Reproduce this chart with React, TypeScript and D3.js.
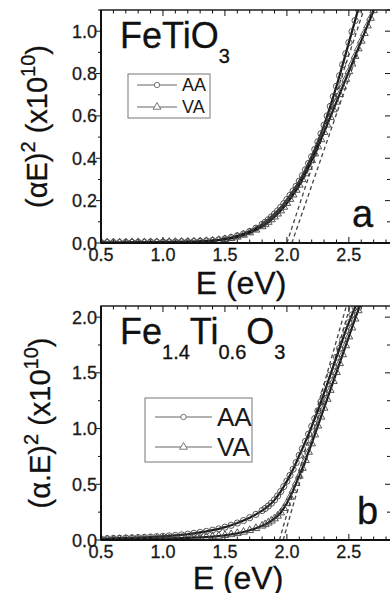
import React, { useEffect, useRef } from "react";
import * as d3 from "d3";

// photon energy grid (eV) shared by all curves
const energy = [
  0.5, 0.55, 0.6, 0.65, 0.7, 0.75, 0.8, 0.85, 0.9, 0.95, 1.0, 1.05, 1.1, 1.15,
  1.2, 1.25, 1.3, 1.35, 1.4, 1.45, 1.5, 1.55, 1.6, 1.65, 1.7, 1.75, 1.8, 1.825,
  1.85, 1.875, 1.9, 1.925, 1.95, 1.975, 2.0, 2.025, 2.05, 2.075, 2.1, 2.125,
  2.15, 2.175, 2.2, 2.225, 2.25, 2.275, 2.3, 2.325, 2.35, 2.375, 2.4, 2.425,
  2.45, 2.475, 2.5, 2.525, 2.55, 2.575, 2.6, 2.625, 2.65, 2.675, 2.7, 2.725,
];

// panel a: FeTiO3
const topAA = [
  0.002, 0.002, 0.002, 0.002, 0.003, 0.003, 0.003, 0.003, 0.004, 0.004, 0.004,
  0.005, 0.005, 0.006, 0.006, 0.007, 0.008, 0.01, 0.012, 0.015, 0.02, 0.026,
  0.034, 0.043, 0.055, 0.07, 0.088, 0.098, 0.11, 0.123, 0.137, 0.152, 0.168,
  0.186, 0.205, 0.225, 0.246, 0.268, 0.292, 0.318, 0.346, 0.376, 0.408, 0.442,
  0.478, 0.516, 0.556, 0.6, 0.645, 0.692, 0.74, 0.79, 0.842, 0.894, 0.946,
  0.998, 1.05, 1.104,
];
const topVA = [
  0.002, 0.002, 0.002, 0.002, 0.002, 0.003, 0.003, 0.003, 0.003, 0.003, 0.004,
  0.004, 0.004, 0.005, 0.005, 0.006, 0.007, 0.008, 0.01, 0.013, 0.017, 0.022,
  0.029, 0.038, 0.049, 0.062, 0.078, 0.088, 0.099, 0.111, 0.124, 0.138, 0.153,
  0.17, 0.188, 0.207, 0.228, 0.25, 0.274, 0.3, 0.328, 0.358, 0.39, 0.422,
  0.455, 0.489, 0.523, 0.558, 0.594, 0.63, 0.666, 0.702, 0.738, 0.774, 0.81,
  0.846, 0.882, 0.918, 0.954, 0.99, 1.026, 1.062, 1.098, 1.134,
];

// panel b: Fe1.4Ti0.6O3
const bottomAA = [
  0.01, 0.012, 0.014, 0.016, 0.018, 0.02, 0.022, 0.024, 0.027, 0.03, 0.033,
  0.037, 0.041, 0.046, 0.052, 0.06, 0.068, 0.077, 0.088, 0.1, 0.115, 0.132,
  0.152, 0.175, 0.2, 0.23, 0.264, 0.283, 0.305, 0.33, 0.36, 0.395, 0.435, 0.48,
  0.528, 0.58, 0.635, 0.695, 0.76, 0.82, 0.885, 0.95, 1.02, 1.09, 1.16, 1.24,
  1.32, 1.4, 1.48, 1.56, 1.64, 1.72, 1.8, 1.88, 1.95, 2.02, 2.09, 2.15,
];
const bottomVA = [
  0.003, 0.004, 0.005, 0.006, 0.007, 0.008, 0.009, 0.01, 0.011, 0.012, 0.013,
  0.014, 0.015, 0.017, 0.019, 0.021, 0.024, 0.027, 0.031, 0.036, 0.042, 0.05,
  0.06, 0.072, 0.087, 0.105, 0.127, 0.14, 0.155, 0.172, 0.192, 0.216, 0.245,
  0.285, 0.33, 0.385, 0.445, 0.51, 0.575, 0.645, 0.715, 0.79, 0.865, 0.945,
  1.025, 1.105, 1.185, 1.265, 1.345, 1.425, 1.505, 1.585, 1.665, 1.745, 1.825,
  1.905, 1.985, 2.06, 2.13,
];

// linear extrapolations: [E start, value start, E end, value end]
const topTangents = [
  [2.0, 0, 2.62, 1.1],
  [2.04, 0, 2.69, 1.1],
];
const bottomTangents = [
  [1.94, 0, 2.48, 2.1],
  [1.97, 0, 2.51, 2.1],
];

const xTicks = [0.5, 1.0, 1.5, 2.0, 2.5];
const topYTicks = [0.0, 0.2, 0.4, 0.6, 0.8, 1.0];
const bottomYTicks = [0.0, 0.5, 1.0, 1.5, 2.0];
const legendLabels = ["AA", "VA"];

const FONT = "'Liberation Sans', Arial, Helvetica, sans-serif";
const xDomain = [0.5, 2.84];

function drawPanel(svg, p) {
  const x = d3.scaleLinear().domain(xDomain).range([p.left, p.right]);
  const y = d3.scaleLinear().domain([0, p.yMax]).range([p.bottom, p.top]);
  const clipId = "clip-" + p.id;

  svg
    .append("clipPath")
    .attr("id", clipId)
    .append("rect")
    .attr("x", p.left)
    .attr("y", p.top)
    .attr("width", p.right - p.left)
    .attr("height", p.bottom - p.top);

  const g = svg.append("g");

  // ticks on the x axes (inward, top and bottom)
  const xMinor = d3.range(5, 29).map((i) => i / 10);
  xMinor.forEach((v) => {
    const major = xTicks.some((t) => Math.abs(t - v) < 1e-6);
    const len = major ? 6 : 3.5;
    g.append("line")
      .attr("x1", x(v)).attr("x2", x(v))
      .attr("y1", p.bottom).attr("y2", p.bottom - len)
      .attr("stroke", "#111").attr("stroke-width", 1);
    g.append("line")
      .attr("x1", x(v)).attr("x2", x(v))
      .attr("y1", p.top).attr("y2", p.top + len)
      .attr("stroke", "#111").attr("stroke-width", 1);
  });

  // ticks on the y axes (outward left, inward right)
  const yMinor = d3.range(0, p.yMax + 1e-6, p.yMinorStep);
  yMinor.forEach((v) => {
    const major = p.yTicks.some((t) => Math.abs(t - v) < 1e-6);
    const len = major ? 5 : 3;
    g.append("line")
      .attr("x1", p.left - len).attr("x2", p.left)
      .attr("y1", y(v)).attr("y2", y(v))
      .attr("stroke", "#111").attr("stroke-width", 1);
    g.append("line")
      .attr("x1", p.right - len - 1).attr("x2", p.right)
      .attr("y1", y(v)).attr("y2", y(v))
      .attr("stroke", "#111").attr("stroke-width", 1);
  });

  // tick labels
  g.selectAll(".xlab")
    .data(xTicks)
    .enter()
    .append("text")
    .attr("x", (d) => x(d))
    .attr("y", p.bottom + 18)
    .attr("text-anchor", "middle")
    .attr("font-family", FONT)
    .attr("font-size", 18)
    .attr("fill", "#1a1a1a")
    .attr("stroke", "#1a1a1a")
    .attr("stroke-width", 0.3)
    .text((d) => d.toFixed(1));

  g.selectAll(".ylab")
    .data(p.yTicks)
    .enter()
    .append("text")
    .attr("x", p.left - 4)
    .attr("y", (d) => y(d) + 6.5)
    .attr("text-anchor", "end")
    .attr("font-family", FONT)
    .attr("font-size", 18)
    .attr("fill", "#1a1a1a")
    .attr("stroke", "#1a1a1a")
    .attr("stroke-width", 0.3)
    .text((d) => d.toFixed(1));

  // data
  const plot = g.append("g").attr("clip-path", `url(#${clipId})`);

  p.tangents.forEach((t) => {
    plot
      .append("line")
      .attr("x1", x(t[0])).attr("y1", y(t[1]))
      .attr("x2", x(t[2])).attr("y2", y(t[3]))
      .attr("stroke", "#444")
      .attr("stroke-width", 1.3)
      .attr("stroke-dasharray", "4,3");
  });

  const line = d3
    .line()
    .x((d) => x(d[0]))
    .y((d) => y(d[1]));

  const tri = d3.symbol().type(d3.symbolTriangle).size(26);

  p.series.forEach((s, si) => {
    const pts = s.map((v, i) => [energy[i], v]);
    plot
      .append("path")
      .attr("d", line(pts))
      .attr("fill", "none")
      .attr("stroke", "#1a1a1a")
      .attr("stroke-width", 2.2);
    pts.forEach((d) => {
      if (si === 0) {
        plot
          .append("circle")
          .attr("cx", x(d[0]))
          .attr("cy", y(d[1]))
          .attr("r", 3.1)
          .attr("fill", "none")
          .attr("stroke", "#444")
          .attr("stroke-width", 0.9);
      } else {
        plot
          .append("path")
          .attr("d", tri())
          .attr("transform", `translate(${x(d[0])},${y(d[1])})`)
          .attr("fill", "none")
          .attr("stroke", "#444")
          .attr("stroke-width", 0.9);
      }
    });
  });

  // frame
  g.append("rect")
    .attr("x", p.left)
    .attr("y", p.top)
    .attr("width", p.right - p.left)
    .attr("height", p.bottom - p.top)
    .attr("fill", "none")
    .attr("stroke", "#111")
    .attr("stroke-width", 1.4);
  g.append("line")
    .attr("x1", p.left).attr("x2", p.left)
    .attr("y1", p.top).attr("y2", p.bottom)
    .attr("stroke", "#111").attr("stroke-width", 2);
  g.append("line")
    .attr("x1", p.left).attr("x2", p.right)
    .attr("y1", p.bottom).attr("y2", p.bottom)
    .attr("stroke", "#111").attr("stroke-width", 2);

  // legend
  const lg = p.legend;
  g.append("rect")
    .attr("x", lg.x)
    .attr("y", lg.y)
    .attr("width", lg.w)
    .attr("height", lg.h)
    .attr("fill", "white")
    .attr("stroke", "#777")
    .attr("stroke-width", 1);
  legendLabels.forEach((label, i) => {
    const ry = lg.y + lg.rowY[i];
    g.append("line")
      .attr("x1", lg.x + lg.lineFrom)
      .attr("x2", lg.x + lg.lineTo)
      .attr("y1", ry)
      .attr("y2", ry)
      .attr("stroke", "#666")
      .attr("stroke-width", 1);
    const mx = lg.x + (lg.lineFrom + lg.lineTo) / 2;
    if (i === 0) {
      g.append("circle")
        .attr("cx", mx).attr("cy", ry).attr("r", 2.7)
        .attr("fill", "white").attr("stroke", "#555").attr("stroke-width", 0.8);
    } else {
      g.append("path")
        .attr("d", tri())
        .attr("transform", `translate(${mx},${ry})`)
        .attr("fill", "white").attr("stroke", "#555").attr("stroke-width", 0.8);
    }
    g.append("text")
      .attr("x", lg.x + lg.textX)
      .attr("y", ry + lg.fontSize * 0.36)
      .attr("font-family", FONT)
      .attr("font-size", lg.fontSize)
      .attr("fill", "#1a1a1a")
      .text(label);
  });

  // axis titles
  g.append("text")
    .attr("x", p.xTitleX)
    .attr("y", p.bottom + p.xTitleDy)
    .attr("text-anchor", "middle")
    .attr("font-family", FONT)
    .attr("font-size", 32)
    .attr("fill", "#111")
    .attr("stroke", "#111")
    .attr("stroke-width", 0.3)
    .text("E (eV)");

  const yt = g
    .append("text")
    .attr("transform", `translate(${p.yTitleX},${(p.top + p.bottom) / 2}) rotate(-90)`)
    .attr("text-anchor", "middle")
    .attr("font-family", FONT)
    .attr("font-size", 29)
    .attr("fill", "#111")
    .attr("stroke", "#111")
    .attr("stroke-width", 0.3);
  yt.append("tspan").text(p.yTitleMain);
  yt.append("tspan").attr("dy", -12).attr("font-size", 20).text("2");
  yt.append("tspan").attr("dy", 12).text(" (x10");
  yt.append("tspan").attr("dy", -12).attr("font-size", 20).text("10");
  yt.append("tspan").attr("dy", 12).text(")");

  // compound label
  const ct = g
    .append("text")
    .attr("x", 120)
    .attr("y", p.top + 38)
    .attr("font-family", FONT)
    .attr("font-size", 36)
    .attr("fill", "#111")
    .attr("stroke", "#111")
    .attr("stroke-width", 0.3);
  p.compound.forEach((part, i) => {
    const sub = i % 2 === 1;
    ct.append("tspan")
      .attr("dy", i === 0 ? 0 : sub ? 15 : -15)
      .attr("font-size", sub ? 20 : 36)
      .text(part);
  });

  // panel letter
  g.append("text")
    .attr("x", p.letterX)
    .attr("y", p.bottom - 16)
    .attr("font-family", FONT)
    .attr("font-size", 38)
    .attr("fill", "#111")
    .attr("stroke", "#111")
    .attr("stroke-width", 0.3)
    .text(p.letter);
}

export default function App() {
  const ref = useRef(null);

  useEffect(() => {
    const svg = d3.select(ref.current);
    svg.selectAll("*").remove();

    drawPanel(svg, {
      id: "a",
      left: 101,
      right: 391,
      top: 10,
      bottom: 243,
      yMax: 1.1,
      yTicks: topYTicks,
      yMinorStep: 0.1,
      series: [topAA, topVA],
      tangents: topTangents,
      legend: { x: 128, y: 74, w: 82, h: 44, rowY: [11, 33], lineFrom: 9, lineTo: 49, textX: 54, fontSize: 18 },
      xTitleX: 241,
      xTitleDy: 51,
      yTitleX: 47,
      yTitleMain: "(\u03b1E)",
      compound: ["FeTiO", "3"],
      letter: "a",
      letterX: 352,
    });

    drawPanel(svg, {
      id: "b",
      left: 101,
      right: 391,
      top: 306,
      bottom: 540,
      yMax: 2.1,
      yTicks: bottomYTicks,
      yMinorStep: 0.25,
      series: [bottomAA, bottomVA],
      tangents: bottomTangents,
      legend: { x: 145, y: 398, w: 107, h: 64, rowY: [19, 49], lineFrom: 10, lineTo: 67, textX: 72, fontSize: 26 },
      xTitleX: 238,
      xTitleDy: 49,
      yTitleX: 50,
      yTitleMain: "(\u03b1.E)",
      compound: ["Fe", "1.4", "Ti", "0.6", "O", "3"],
      letter: "b",
      letterX: 357,
    });
  }, []);

  return (
    <svg
      ref={ref}
      width={390}
      height={593}
      style={{ position: "absolute", left: 0, top: 0, background: "white" }}
    />
  );
}
